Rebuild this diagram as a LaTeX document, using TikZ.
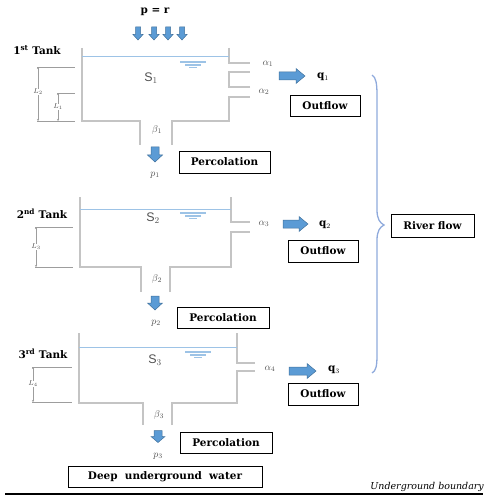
\documentclass[tikz,border=0pt]{standalone}
\usepackage{fontspec}
\setmainfont{DejaVu Serif}
\newfontfamily\labsans{Liberation Sans}
\usetikzlibrary{arrows.meta}
\definecolor{wallgray}{RGB}{196,196,196}
\definecolor{waterblue}{RGB}{157,195,230}
\definecolor{arrowfill}{RGB}{91,155,213}
\definecolor{arrowedge}{RGB}{65,113,156}
\definecolor{bracecol}{RGB}{143,170,220}
\definecolor{labgray}{RGB}{80,80,80}
\tikzset{
  wall/.style={draw=wallgray,line width=1.1bp},
  waterline/.style={draw=waterblue,line width=0.9bp},
  dimline/.style={draw=wallgray!80!black,line width=0.5bp},
  bold/.style={font=\fontsize{10.5}{12}\selectfont\bfseries,inner sep=0pt},
  labelbox/.style={draw,line width=0.9bp,font=\fontsize{10.5}{12}\selectfont\bfseries,inner sep=0pt,minimum height=22bp},
  symb/.style={text=labgray,font=\fontsize{10}{11}\selectfont,inner sep=0pt},
  slab/.style={text=labgray,font=\labsans\fontsize{12.5}{13}\selectfont,inner sep=0pt},
  dimlab/.style={text=labgray,font=\fontsize{7}{8}\selectfont,fill=white,inner sep=0.5pt},
  blockarrow/.style={draw=arrowedge,fill=arrowfill,line width=0.5bp,line join=miter},
  wsym/.pic={
    \draw[waterline,line width=1.1bp] (-13,0) -- (13,0);
    \draw[waterline,line width=1.1bp] (-8,3) -- (8,3);
    \draw[waterline,line width=1.1bp] (-4,5.5) -- (4,5.5);
  }
}
% block arrow: x, y, rotation, length, shaft width, head width, head length
\newcommand\blockarr[7]{%
  \draw[blockarrow,shift={(#1,#2)},rotate=#3]
    (-#4/2,-#5/2) -- (#4/2-#7,-#5/2) -- (#4/2-#7,-#6/2) -- (#4/2,0)
    -- (#4/2-#7,#6/2) -- (#4/2-#7,#5/2) -- (-#4/2,#5/2) -- cycle;}
\begin{document}
\begin{tikzpicture}[x=1bp,y=-1bp]
\useasboundingbox (0,0) rectangle (489,497);

% ---------- Tank 1 ----------
\draw[wall] (82,48) -- (82,121) -- (140,121) -- (140,145);
\draw[wall] (172,145) -- (172,121) -- (229,121) -- (229,97) -- (250,97);
\draw[wall] (250,87) -- (229,87) -- (229,72) -- (250,72);
\draw[wall] (229,48) -- (229,63) -- (250,63);
\draw[waterline] (82,56) -- (229,56);
\pic at (193,62) {wsym};

\draw[dimline] (37,67) -- (75,67);
\draw[dimline] (57,93) -- (75,93);
\draw[dimline] (37,121) -- (75,121);
\draw[dimline,{Stealth[length=2bp,width=2bp]}-{Stealth[length=2bp,width=2bp]}] (38,67) -- (38,121);
\draw[dimline,{Stealth[length=2bp,width=2bp]}-{Stealth[length=2bp,width=2bp]}] (58,93) -- (58,121);
\node[dimlab] (L2) at (38,92) {$L_2$};
\node[dimlab] (L1) at (58,107) {$L_1$};

\node[bold] (t1) at (37,50) {1\textsuperscript{st} Tank};
\node[bold] (pr) at (155,12) {p = r};
\foreach \x in {138,154,168,182}
  \blockarr{\x}{33.5}{-90}{13}{5}{10}{5.5};
\node[slab] (S1) at (151,78) {S$_1$};
\node[symb] (b1) at (157,130) {$\beta_1$};
\blockarr{155}{154.5}{-90}{15}{8}{15}{7}
\node[symb] (p1) at (155,175) {$p_1$};
\node[labelbox,minimum width=91bp] (perc1) at (224.5,162) {Percolation};
\node[symb] (a1) at (268,64) {$\alpha_1$};
\node[symb] (a2) at (264,92) {$\alpha_2$};
\blockarr{292}{76}{0}{26}{8}{15}{9}
\node[bold] (q1) at (323,77) {q$_1$};
\node[labelbox,minimum width=70bp,minimum height=21bp] (out1) at (325,106) {Outflow};

% ---------- Tank 2 ----------
\draw[wall] (80,197) -- (80,267) -- (141,267) -- (141,292);
\draw[wall] (170,292) -- (170,267) -- (231,267) -- (231,232) -- (250,232);
\draw[wall] (231,197) -- (231,222) -- (250,222);
\draw[waterline] (80,209) -- (231,209);
\pic at (193,213) {wsym};

\draw[dimline] (35,227) -- (73,227);
\draw[dimline] (35,267) -- (73,267);
\draw[dimline,{Stealth[length=2bp,width=2bp]}-{Stealth[length=2bp,width=2bp]}] (36,227) -- (36,267);
\node[dimlab] (L3) at (36,247) {$L_3$};

\node[bold] (t2) at (42,214) {2\textsuperscript{nd} Tank};
\node[slab] (S2) at (153,218) {S$_2$};
\node[symb] (b2) at (157,279) {$\beta_2$};
\blockarr{155}{303}{-90}{14}{8}{15}{7}
\node[symb] (p2) at (156,323) {$p_2$};
\node[labelbox,minimum width=92bp,minimum height=21bp] (perc2) at (223,317.5) {Percolation};
\node[symb] (a3) at (264,224) {$\alpha_3$};
\blockarr{295.5}{224}{0}{25}{8}{15}{9}
\node[bold] (q2) at (325,225) {q$_2$};
\node[labelbox,minimum width=70bp] (out2) at (323,251) {Outflow};

% ---------- Tank 3 ----------
\draw[wall] (79,333) -- (79,403) -- (143,403) -- (143,425);
\draw[wall] (172,425) -- (172,403) -- (237,403) -- (237,371) -- (255,371);
\draw[wall] (237,333) -- (237,363) -- (255,363);
\draw[waterline] (79,347) -- (237,347);
\pic at (198,352) {wsym};

\draw[dimline] (32,367) -- (72,367);
\draw[dimline] (32,402) -- (72,402);
\draw[dimline,{Stealth[length=2bp,width=2bp]}-{Stealth[length=2bp,width=2bp]}] (33,367) -- (33,402);
\node[dimlab] (L4) at (33,384) {$L_4$};

\node[bold] (t3) at (43,354) {3\textsuperscript{rd} Tank};
\node[slab] (S3) at (155,360) {S$_3$};
\node[symb] (b3) at (159,415) {$\beta_3$};
\blockarr{158}{436.5}{-90}{12}{8}{14}{6}
\node[symb] (p3) at (158,456) {$p_3$};
\node[labelbox,minimum width=92bp,minimum height=21bp] (perc3) at (226,442.5) {Percolation};
\node[symb] (a4) at (270,369) {$\alpha_4$};
\blockarr{302.5}{371}{0}{27}{8}{15}{9}
\node[bold] (q3) at (334,370) {q$_3$};
\node[labelbox,minimum width=70bp] (out3) at (323,394) {Outflow};

% ---------- River flow brace ----------
\draw[draw=bracecol,line width=1.3bp]
  (372,75) .. controls (376,77) and (377,84) .. (377,95) -- (377,210)
  .. controls (377,219) and (380,223) .. (384,225)
  .. controls (380,227) and (377,231) .. (377,240) -- (377,355)
  .. controls (377,366) and (376,371) .. (372,373);
\node[labelbox,minimum width=83bp,minimum height=23bp] (river) at (432.5,225.5) {River flow};

% ---------- Bottom ----------
\node[labelbox,minimum width=194bp,minimum height=21bp] (deep) at (165,476.5) {Deep\ \ underground\ \ water};
\coordinate (bl) at (5,494);
\coordinate (br) at (483,494);
\draw[line width=1.6bp] (bl) -- (br);
\node[font=\fontsize{9.5}{11}\selectfont\itshape,inner sep=0pt,anchor=east] (ub) at (484,487) {Underground boundary};
\end{tikzpicture}
\end{document}
